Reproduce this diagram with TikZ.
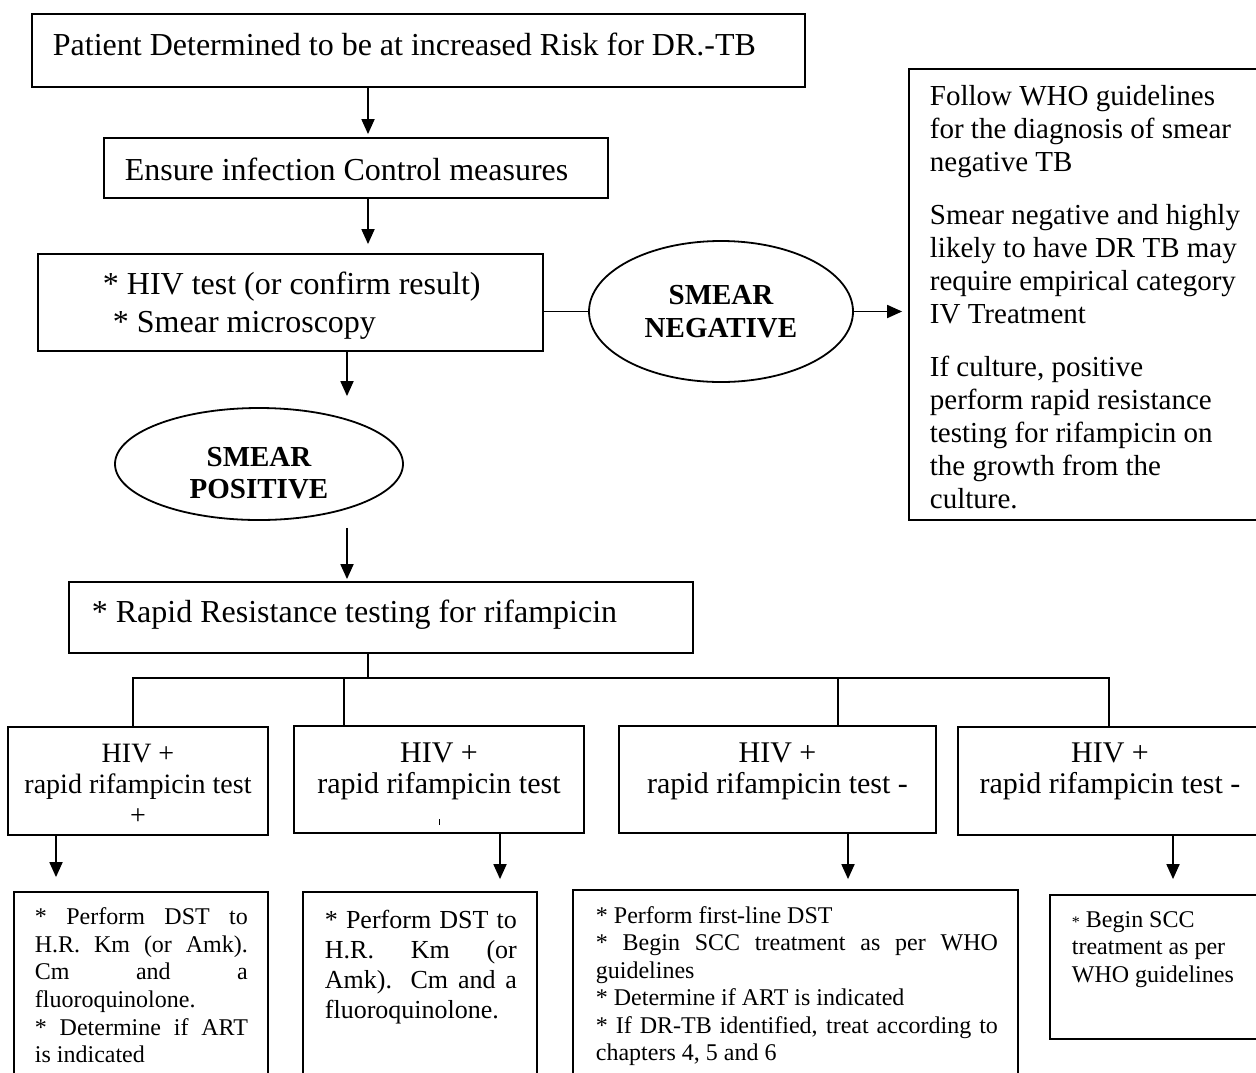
\documentclass[tikz,border=0pt]{standalone}
\usepackage{fontspec}
\setmainfont{Liberation Serif}
\usetikzlibrary{arrows.meta,shapes.geometric,fit}
\newcommand{\jline}[2]{\makebox[#1][s]{#2}}
\newcommand{\fsz}[2]{\fontsize{#1}{#2}\selectfont}

\begin{document}
\begin{tikzpicture}[x=0.5pt,y=-0.5pt,line width=0.9pt,
    box/.style={draw,rectangle,inner sep=0pt},
    oval/.style={draw,ellipse,inner sep=0pt},
    txt/.style={inner sep=0pt,anchor=base west},
    blk/.style={inner sep=0pt,anchor=north west,align=left},
    mid/.style={inner sep=0pt,anchor=north,align=center},
    arr/.style={-{Triangle[length=7.5pt,width=6.5pt]}}]
    \useasboundingbox (0,0) rectangle (1256,1072);

    \node[box,fit={(32,14) (805,87)}] (risk) {};
    \node[txt,font={\fsz{16}{19}}] (risktxt) at (52,55) {Patient Determined to be at increased Risk for DR.-TB};
    \node[box,fit={(104,138) (608,198)}] (ensure) {};
    \node[txt,font={\fsz{16}{19}}] (ensuretxt) at (124,180) {Ensure infection Control measures};
    \node[box,fit={(38,254) (543,351)}] (tests) {};
    \node[txt,font={\fsz{16}{19}}] (hivtest) at (102,294) {* HIV test (or confirm result)};
    \node[txt,font={\fsz{16}{19}}] (smeartest) at (112,332) {* Smear microscopy};

    \node[oval,minimum width=132pt,minimum height=70.5pt,align=center,font={\bfseries\fsz{14.5}{16.5}}] (smneg) at (721,311.5) {SMEAR\\NEGATIVE};
    \node[box,fit={(909,69) (1270,520)}] (guide) {};
    \node[blk,font={\fsz{14.5}{16.5}}] (guidetxt) at (929,84) {Follow WHO guidelines\\for the diagnosis of smear\\negative TB\\[10pt]Smear negative and highly\\likely to have DR TB may\\require empirical category\\IV Treatment\\[10pt]If culture, positive\\perform rapid resistance\\testing for rifampicin on\\the growth from the\\culture.};

    \node[oval,minimum width=144pt,minimum height=56pt] (smpos) at (259,464) {};
    \node[mid,font={\bfseries\fsz{14.5}{16}}] (smpostxt) at (259,446) {SMEAR\\POSITIVE};

    \node[box,fit={(69,582) (693,653)}] (rapid) {};
    \node[txt,font={\fsz{16}{19}}] (rapidtxt) at (91,622) {* Rapid Resistance testing for rifampicin};

    \node[box,fit={(8,727) (268,835)}] (hiva) {};
    \node[box,fit={(294,726) (584,833)}] (hivb) {};
    \node[box,fit={(619,726) (936,833)}] (hivc) {};
    \node[box,fit={(958,727) (1262,835)}] (hivd) {};
    \node[mid,font={\fsz{14}{15.5}}] (hivatxt) at (138,743.5) {HIV +\\rapid rifampicin test\\+};
    \node[mid,font={\fsz{15}{15.5}}] (hivbtxt) at (439,742) {HIV +\\rapid rifampicin test\\\rule{0.5pt}{3pt}};
    \node[mid,font={\fsz{15}{15.5}}] (hivctxt) at (777.5,742) {HIV +\\rapid rifampicin test -};
    \node[mid,font={\fsz{15}{15.5}}] (hivdtxt) at (1110,742) {HIV +\\rapid rifampicin test -};

    \node[box,fit={(14,892) (268,1080)}] (acta) {};
    \node[box,fit={(303,892) (537,1080)}] (actb) {};
    \node[box,fit={(573,890) (1018,1080)}] (actc) {};
    \node[box,fit={(1050,895) (1270,1039)}] (actd) {};
    \node[blk,font={\fsz{12}{13.85}}] (actatxt) at (34,906.6) {\jline{106.5pt}{* Perform DST to}\\\jline{106.5pt}{H.R. Km (or Amk).}\\\jline{106.5pt}{Cm and a}\\fluoroquinolone.\\\jline{106.5pt}{* Determine if ART}\\is indicated};
    \node[blk,font={\fsz{13}{15}}] (actbtxt) at (324,909) {\jline{96pt}{* Perform DST to}\\\jline{96pt}{H.R. Km (or}\\\jline{96pt}{Amk). Cm and a}\\fluoroquinolone.};
    \node[blk,font={\fsz{12}{13.75}}] (actctxt) at (595,905.6) {* Perform first-line DST\\\jline{201pt}{* Begin SCC treatment as per WHO}\\guidelines\\* Determine if ART is indicated\\\jline{201pt}{* If DR-TB identified, treat according to}\\chapters 4, 5 and 6};
    \node[blk,font={\fsz{12}{13.75}}] (actdtxt) at (1071,910.6) {{\fsz{8}{8}*} Begin SCC\\treatment as per\\WHO guidelines};

    \draw[arr,shorten >=1.5pt] (368,0 |- risk.south) -- (368,0 |- ensure.north);
    \draw[arr,shorten >=4.5pt] (368,0 |- ensure.south) -- (368,0 |- tests.north);
    \draw (tests.east |- smneg.west) -- (smneg.west);
    \draw[arr,shorten >=3pt] (smneg.east) -- (smneg.east -| guide.west);
    \draw[arr,shorten >=5.5pt] (347,0 |- tests.south) -- (347,0 |- smpos.north);
    \draw[arr,shorten <=3.5pt,shorten >=1pt] (347,0 |- smpos.south) -- (347,0 |- rapid.north);
    \draw (368,0 |- rapid.south) -- (368,678);
    \draw (133,0 |- hiva.north) |- (1109,678) -- (1109,0 |- hivd.north);
    \draw (344,678) -- (344,0 |- hivb.north);
    \draw (838,678) -- (838,0 |- hivc.north);
    \draw[arr,shorten >=7pt] (56,0 |- hiva.south) -- (56,0 |- acta.north);
    \draw[arr,shorten >=6pt] (500,0 |- hivb.south) -- (500,0 |- actb.north);
    \draw[arr,shorten >=5pt] (848,0 |- hivc.south) -- (848,0 |- actc.north);
    \draw[arr,shorten >=7.5pt] (1173,0 |- hivd.south) -- (1173,0 |- actd.north);
\end{tikzpicture}
\end{document}
